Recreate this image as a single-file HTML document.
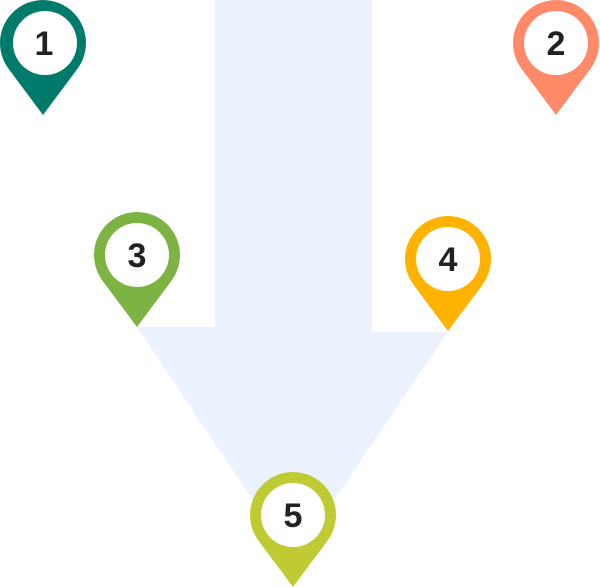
<!DOCTYPE html>
<html><head><meta charset="utf-8"><style>
html,body{margin:0;padding:0;background:#fff;}
svg{display:block}
text{font-family:"Liberation Sans",sans-serif;font-weight:bold;font-size:34px;fill:#222;text-anchor:middle;}
</style></head><body>
<svg width="600" height="587" viewBox="0 0 600 587" xmlns="http://www.w3.org/2000/svg">
<polygon points="215,0 372,0 372,332 448,332 293,560 137,327 215,327" fill="#ebf2fd"/>
<defs>
<g id="pin">
<circle cx="0" cy="0" r="43"/>
<polygon points="-34.5,25.7 34.5,25.7 0,72"/>
</g>
</defs>
<g fill="#007a6a"><use href="#pin" x="43" y="43"/></g>
<circle cx="45" cy="43" r="32" fill="#fff"/><text x="44" y="55">1</text>
<g fill="#ff8a68"><use href="#pin" x="556" y="43"/></g>
<circle cx="556" cy="43" r="32" fill="#fff"/><text x="556" y="55">2</text>
<g fill="#7cb342"><use href="#pin" x="137" y="255"/></g>
<circle cx="137" cy="255" r="32" fill="#fff"/><text x="137" y="267">3</text>
<g fill="#ffb300"><use href="#pin" x="448" y="259"/></g>
<circle cx="448" cy="259" r="32" fill="#fff"/><text x="448" y="271">4</text>
<g fill="#c0ca33"><use href="#pin" x="293" y="515"/></g>
<circle cx="293" cy="515" r="32" fill="#fff"/><text x="293" y="527">5</text>
</svg>
</body></html>
